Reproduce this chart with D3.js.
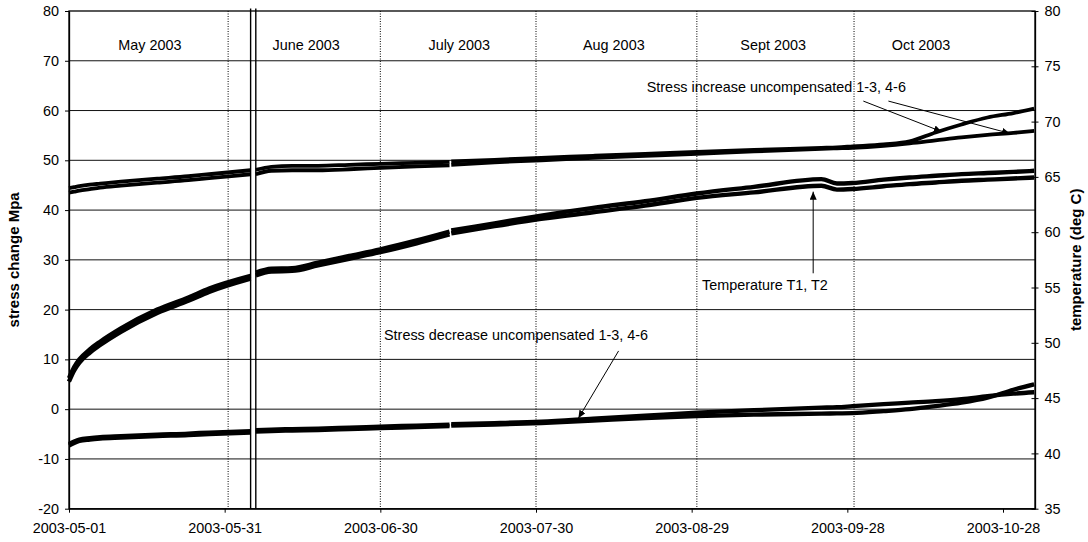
<!DOCTYPE html>
<html><head><meta charset="utf-8">
<script src="https://cdn.jsdelivr.net/npm/d3@7"></script>
<style>body{margin:0;background:#fff}svg{display:block}text{font-family:"Liberation Sans",Arial,sans-serif}</style>
</head><body><svg id="c" width="1088" height="542"></svg>
<script>
// ---------------- data ----------------
const dates = ["2003-05-01","2003-05-02","2003-05-03","2003-05-05","2003-05-07","2003-05-11","2003-05-18","2003-05-24","2003-05-28","2003-06-05",
 "2003-06-05T12:00","2003-06-06","2003-06-09","2003-06-13","2003-06-18","2003-06-24","2003-06-30","2003-07-07","2003-07-13T08:00",
 "2003-07-13T12:00","2003-07-13T16:00","2003-07-22","2003-07-31","2003-08-10","2003-08-20","2003-08-30","2003-09-10","2003-09-23",
 "2003-09-26","2003-09-29","2003-10-05","2003-10-10","2003-10-15","2003-10-20","2003-10-25","2003-10-30","2003-11-03"];

// stress increase uncompensated (MPa, left axis)
const stressInc13 = [44.4,44.6,44.8,45.1,45.3,45.7,46.3,46.8,47.2,48.0, null,48.1,48.7,48.9,48.9,49.1,49.3,49.5,49.7,
 null,49.8,50.1,50.5,50.9,51.3,51.7,52.1,52.5,52.6,52.8,53.2,53.8,55.6,57.2,58.6,59.5,60.4];
const stressInc46 = [43.5,43.7,43.9,44.2,44.5,44.9,45.5,46.0,46.4,47.2, null,47.2,47.9,48.0,48.0,48.2,48.5,48.8,49.0,
 null,49.1,49.6,50.0,50.5,50.9,51.3,51.8,52.3,52.4,52.5,52.9,53.4,54.0,54.6,55.1,55.5,55.9];
// stress decrease uncompensated (MPa, left axis)
const stressDec13 = [-7.0,-6.5,-6.1,-5.8,-5.6,-5.4,-5.1,-4.9,-4.7,-4.4, null,-4.2,-4.1,-4.0,-3.9,-3.7,-3.5,-3.3,-3.1,
 null,-3.0,-2.8,-2.5,-1.9,-1.3,-0.7,-0.2,0.3,0.4,0.6,1.0,1.3,1.6,2.0,2.6,3.1,3.4];
const stressDec46 = [-7.3,-6.8,-6.4,-6.1,-5.9,-5.7,-5.4,-5.2,-5.0,-4.7, null,-4.5,-4.4,-4.3,-4.2,-4.0,-3.8,-3.6,-3.4,
 null,-3.3,-3.1,-2.8,-2.3,-1.8,-1.4,-1.1,-0.9,-0.85,-0.8,-0.4,0.0,0.6,1.3,2.3,3.9,5.0];
// temperature (deg C, right axis)
const tempT1 = [46.8,47.8,48.5,49.4,50.1,51.3,53.0,54.1,54.9,56.05, null,56.35,56.7,56.75,57.25,57.85,58.45,59.25,60.05,
 null,60.15,60.8,61.5,62.2,62.8,63.5,64.1,64.8,64.4,64.45,64.75,64.95,65.1,65.25,65.35,65.45,65.55];
const tempT2 = [46.5,47.5,48.2,49.1,49.8,51.0,52.7,53.8,54.6,55.8, null,56.1,56.45,56.5,57.0,57.6,58.2,59.0,59.8,
 null,59.9,60.55,61.2,61.8,62.4,63.1,63.6,64.2,63.85,63.9,64.15,64.35,64.5,64.65,64.75,64.85,64.95];

const xTicks = ["2003-05-01","2003-05-31","2003-06-30","2003-07-30","2003-08-29","2003-09-28","2003-10-28"];
const yLeftTicks = [-20,-10,0,10,20,30,40,50,60,70,80];
const yRightTicks = [35,40,45,50,55,60,65,70,75,80];
const monthSeparators = ["2003-05-31T16:00","2003-06-30","2003-07-30","2003-08-30","2003-09-29T07:00"];
const breakDates = ["2003-06-05","2003-06-06"];
const monthLabels = ["May 2003","June 2003","July 2003","Aug 2003","Sept 2003","Oct 2003"];
const monthLabelDates = ["2003-05-16T14:00","2003-06-15T17:00","2003-07-15T05:00","2003-08-14","2003-09-13T17:00","2003-10-12T05:00"];
const leftTitle = "stress change Mpa";
const rightTitle = "temperature (deg C)";

// annotations (in date / left-axis units)
const annoTexts = ["Stress increase uncompensated 1-3, 4-6","Temperature T1, T2","Stress decrease uncompensated 1-3, 4-6"];
const annoTextPos = [["2003-10-09T07:00",64.7,"end"],["2003-08-31",24.9,"start"],["2003-06-30T17:00",14.9,"start"]];
const arrows = [
  [["2003-10-01T02:00",61.9],["2003-10-16T05:00",55.75]],
  [["2003-10-05T22:00",61.9],["2003-10-29T08:00",55.4]],
  [["2003-09-21T10:00",27.3],["2003-09-21T10:00",43.7]],
  [["2003-08-14T22:00",11.7],["2003-08-07T04:00",-1.84]]
];

// ---------------- drawing ----------------
const P = s => d3.utcParse("%Y-%m-%dT%H:%M")(s.length === 10 ? s + "T00:00" : s);
const svg = d3.select("#c");
const L = 69, R = 1035, T = 11, B = 508.7;
const x = d3.scaleUtc().domain([P("2003-05-01"), P("2003-11-03T04:00")]).range([L, R]);
const yL = d3.scaleLinear().domain([-20, 80]).range([B, T]);
const yR = d3.scaleLinear().domain([35, 80]).range([B, T]);
const FS = "14.4px";

svg.append("rect").attr("width",1088).attr("height",542).attr("fill","#fff");

// gridlines
svg.append("g").selectAll("line").data(yLeftTicks.filter(v => v > -20 && v < 80)).join("line")
  .attr("x1", L).attr("x2", R).attr("y1", d => yL(d)).attr("y2", d => yL(d))
  .attr("stroke", "#111").attr("stroke-width", 1);

// month separators
svg.append("g").selectAll("line").data(monthSeparators).join("line")
  .attr("x1", d => x(P(d))).attr("x2", d => x(P(d))).attr("y1", T).attr("y2", B)
  .attr("stroke", "#000").attr("stroke-width", 1).attr("stroke-dasharray", "1,1.5");

// month labels
svg.append("g").selectAll("text").data(monthLabels).join("text")
  .attr("x", (d,i) => x(P(monthLabelDates[i]))).attr("y", yL(73.2)).attr("dy", "0.35em")
  .attr("text-anchor", "middle").attr("font-size", FS).attr("fill", "#000").text(d => d);

// data lines
const dts = dates.map(P);
function drawSeries(vals, yScale, w) {
  const line = d3.line().defined(d => d[1] != null).x(d => x(d[0])).y(d => yScale(d[1])).curve(d3.curveMonotoneX);
  svg.append("path").datum(dts.map((d,i) => [d, vals[i]])).attr("d", line)
    .attr("fill", "none").attr("stroke", "#000").attr("stroke-width", w)
    .attr("stroke-linejoin", "round").attr("stroke-linecap", "butt");
}
drawSeries(tempT1, yR, 4.4);
drawSeries(tempT2, yR, 4.4);
drawSeries(stressInc13, yL, 3.8);
drawSeries(stressInc46, yL, 3.8);
drawSeries(stressDec13, yL, 4.3);
drawSeries(stressDec46, yL, 4.3);

// break lines
svg.append("g").selectAll("line").data(breakDates).join("line")
  .attr("x1", d => x(P(d))).attr("x2", d => x(P(d))).attr("y1", T - 2.5).attr("y2", B)
  .attr("stroke", "#000").attr("stroke-width", 1.4);

// frame
svg.append("rect").attr("x", L).attr("y", T).attr("width", R - L).attr("height", B - T)
  .attr("fill", "none").attr("stroke", "#000").attr("stroke-width", 1.3);

// axes
const gl = svg.append("g").attr("transform", `translate(${L},0)`)
  .call(d3.axisLeft(yL).tickValues(yLeftTicks).tickFormat(d => String(d)).tickSize(4).tickSizeOuter(0).tickPadding(6));
const gr = svg.append("g").attr("transform", `translate(${R},0)`)
  .call(d3.axisRight(yR).tickValues(yRightTicks).tickFormat(d => String(d)).tickSize(3.5).tickSizeOuter(0).tickPadding(6));
gr.selectAll(".tick line").attr("x1", -3.5);
const gb = svg.append("g").attr("transform", `translate(0,${B})`)
  .call(d3.axisBottom(x).tickValues(xTicks.map(P)).tickFormat(d3.utcFormat("%Y-%m-%d")).tickSize(4).tickSizeOuter(0).tickPadding(10));
[gl, gr, gb].forEach(g => {
  g.select(".domain").attr("stroke", "#000").attr("stroke-width", 1.3);
  g.selectAll(".tick line").attr("stroke", "#000").attr("stroke-width", 1);
  g.selectAll("text").attr("font-size", FS).attr("fill", "#000").style("font-family", '"Liberation Sans",Arial,sans-serif');
});

// axis titles
svg.append("text").attr("transform", `translate(18.5,${(T+B)/2}) rotate(-90)`).attr("text-anchor", "middle")
  .attr("font-size", "15px").attr("font-weight", "bold").text(leftTitle);
svg.append("text").attr("transform", `translate(1080.5,${(T+B)/2}) rotate(-90)`).attr("text-anchor", "middle")
  .attr("font-size", "15px").attr("font-weight", "bold").text(rightTitle);

// annotations
svg.append("defs").append("marker").attr("id", "ah").attr("markerUnits", "userSpaceOnUse")
  .attr("markerWidth", 9).attr("markerHeight", 7).attr("refX", 8).attr("refY", 3.5).attr("orient", "auto")
  .append("path").attr("d", "M0,0 L8,3.5 L0,7 Z").attr("fill", "#000");
svg.append("g").selectAll("line").data(arrows).join("line")
  .attr("x1", d => x(P(d[0][0]))).attr("y1", d => yL(d[0][1]))
  .attr("x2", d => x(P(d[1][0]))).attr("y2", d => yL(d[1][1]))
  .attr("stroke", "#000").attr("stroke-width", 1).attr("marker-end", "url(#ah)");
svg.append("g").selectAll("text").data(annoTexts).join("text")
  .attr("x", (d,i) => x(P(annoTextPos[i][0]))).attr("y", (d,i) => yL(annoTextPos[i][1])).attr("dy", "0.35em")
  .attr("text-anchor", (d,i) => annoTextPos[i][2]).attr("font-size", FS).attr("fill", "#000").text(d => d);
</script></body></html>
